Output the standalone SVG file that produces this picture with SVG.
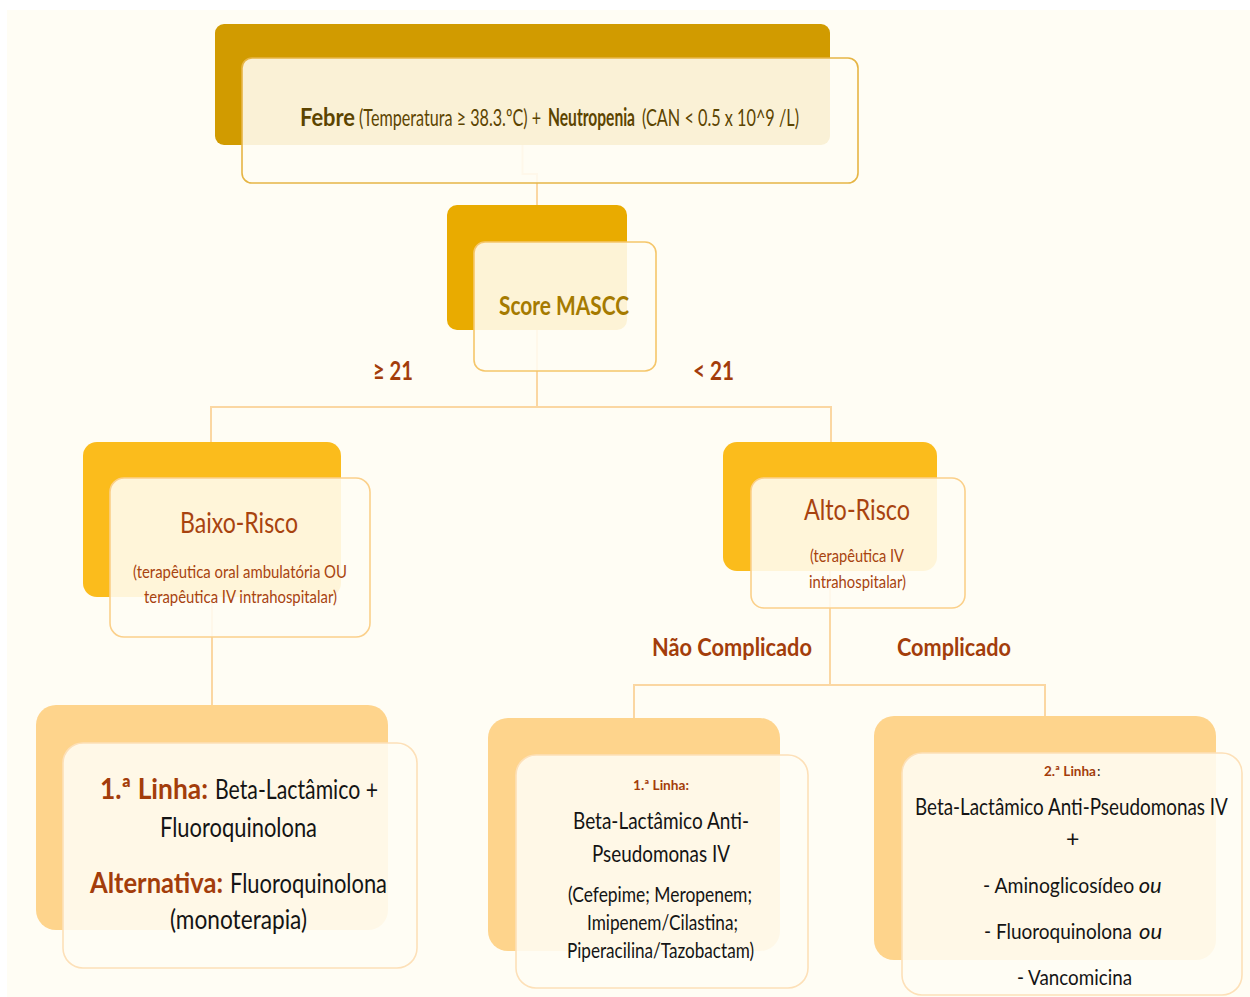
<svg xmlns="http://www.w3.org/2000/svg" width="1250" height="997" viewBox="0 0 1250 997">
<style>
.t{font-family:Lato,"Liberation Sans",sans-serif}
.b{font-weight:700}
.rust{fill:#a33d0b}
.blk{fill:#141414}
.front{fill:#fffdf4;fill-opacity:0.88;stroke-width:1.6}
.conn{fill:none;stroke:#fbd7a2;stroke-width:2}
</style>
<rect x="0" y="0" width="1250" height="997" fill="#ffffff"/>
<rect x="7" y="10" width="1243" height="987" fill="#fffdf4"/>

<g id="connectors">
<path class="conn" d="M522.5 145 V174 H537 V205"/>
<path class="conn" d="M537 330 V407 M211 442 V407 H831 V442"/>
<path class="conn" d="M212 597 V705"/>
<path class="conn" d="M830 571 V685 M634 718 V685 H1045 V716"/>
</g>

<g id="node-febre">
<rect x="215" y="24" width="615" height="121" rx="9" fill="#d19b00"/>
<rect class="front" x="242" y="58" width="616" height="125" rx="10" stroke="#e6b545"/>
<g transform="translate(0,126) scale(0.7,1)">
<text class="t b" x="428.6" y="0" font-size="24" fill="#5c4400" textLength="78.6" lengthAdjust="spacingAndGlyphs">Febre</text>
<text class="t" x="512.9" y="0" font-size="24" fill="#5c4400" textLength="260" lengthAdjust="spacingAndGlyphs">(Temperatura ≥ 38.3.ºC) +</text>
<text class="t b" x="782.9" y="0" font-size="24" fill="#5c4400" textLength="124.3" lengthAdjust="spacingAndGlyphs">Neutropenia</text>
<text class="t" x="917.1" y="0" font-size="24" fill="#5c4400" textLength="224.3" lengthAdjust="spacingAndGlyphs">(CAN &lt; 0.5 x 10^9 /L)</text>
</g>
</g>

<g id="node-score">
<rect x="447" y="205" width="180" height="125" rx="10" fill="#e9ab00"/>
<rect class="front" x="474" y="242" width="182" height="129" rx="11" stroke="#f5c66a"/>
<text class="t b" x="499" y="315" font-size="27" fill="#a57a00" textLength="130" lengthAdjust="spacingAndGlyphs">Score MASCC</text>
</g>

<g id="label-ge21">
<text class="t b rust" x="373" y="380" font-size="27" textLength="40" lengthAdjust="spacingAndGlyphs">≥ 21</text>
</g>
<g id="label-lt21">
<text class="t b rust" x="693" y="380" font-size="27" textLength="41" lengthAdjust="spacingAndGlyphs">&lt; 21</text>
</g>

<g id="node-baixo">
<rect x="83" y="442" width="258" height="155" rx="14" fill="#fbbc1c"/>
<rect class="front" x="110" y="478" width="260" height="159" rx="14" stroke="#fbd08a"/>
<text class="t" x="180" y="533" font-size="29" fill="#a8430f" textLength="118" lengthAdjust="spacingAndGlyphs">Baixo-Risco</text>
<text class="t" x="133" y="578" font-size="17.5" fill="#a8430f" textLength="214" lengthAdjust="spacingAndGlyphs">(terapêutica oral ambulatória OU</text>
<text class="t" x="144" y="603" font-size="17.5" fill="#a8430f" textLength="193" lengthAdjust="spacingAndGlyphs">terapêutica IV intrahospitalar)</text>
</g>

<g id="node-alto">
<rect x="723" y="442" width="214" height="129" rx="14" fill="#fbbc1c"/>
<rect class="front" x="751" y="478" width="214" height="130" rx="13" stroke="#fbd08a"/>
<text class="t" x="804" y="520" font-size="29" fill="#a8430f" textLength="106" lengthAdjust="spacingAndGlyphs">Alto-Risco</text>
<text class="t" x="810" y="562" font-size="16.5" fill="#a8430f" textLength="94" lengthAdjust="spacingAndGlyphs">(terapêutica IV</text>
<text class="t" x="809" y="588" font-size="16.5" fill="#a8430f" textLength="97" lengthAdjust="spacingAndGlyphs">intrahospitalar)</text>
</g>

<g id="label-nao-complicado">
<text class="t b rust" x="652" y="656" font-size="25" textLength="160" lengthAdjust="spacingAndGlyphs">Não Complicado</text>
</g>
<g id="label-complicado">
<text class="t b rust" x="897" y="656" font-size="25" textLength="114" lengthAdjust="spacingAndGlyphs">Complicado</text>
</g>

<g id="node-baixo-tratamento">
<rect x="36" y="705" width="352" height="225" rx="20" fill="#fed48c"/>
<rect class="front" x="63" y="743" width="354" height="225" rx="20" stroke="#fde0b8"/>
<text class="t b rust" x="100" y="799" font-size="29" textLength="108" lengthAdjust="spacingAndGlyphs">1.ª Linha:</text>
<text class="t blk" x="215" y="799" font-size="26" textLength="163" lengthAdjust="spacingAndGlyphs">Beta-Lactâmico +</text>
<text class="t blk" x="160" y="837" font-size="26" textLength="157" lengthAdjust="spacingAndGlyphs">Fluoroquinolona</text>
<text class="t b rust" x="90" y="893" font-size="29" textLength="133" lengthAdjust="spacingAndGlyphs">Alternativa:</text>
<text class="t blk" x="230" y="893" font-size="26" textLength="157" lengthAdjust="spacingAndGlyphs">Fluoroquinolona</text>
<text class="t blk" x="170" y="929" font-size="26" textLength="137" lengthAdjust="spacingAndGlyphs">(monoterapia)</text>
</g>

<g id="node-nao-complicado">
<rect x="488" y="718" width="292" height="233" rx="20" fill="#fed48c"/>
<rect class="front" x="516" y="755" width="292" height="233" rx="20" stroke="#fde0b8"/>
<text class="t b rust" x="633" y="790" font-size="14" textLength="56" lengthAdjust="spacingAndGlyphs">1.ª Linha:</text>
<text class="t blk" x="573" y="829" font-size="24" textLength="176" lengthAdjust="spacingAndGlyphs">Beta-Lactâmico Anti-</text>
<text class="t blk" x="592" y="862" font-size="24" textLength="138" lengthAdjust="spacingAndGlyphs">Pseudomonas IV</text>
<text class="t blk" x="568" y="902" font-size="21" textLength="184" lengthAdjust="spacingAndGlyphs">(Cefepime; Meropenem;</text>
<text class="t blk" x="587" y="930" font-size="21" textLength="151" lengthAdjust="spacingAndGlyphs">Imipenem/Cilastina;</text>
<text class="t blk" x="567" y="958" font-size="21" textLength="187" lengthAdjust="spacingAndGlyphs">Piperacilina/Tazobactam)</text>
</g>

<g id="node-complicado">
<rect x="874" y="716" width="342" height="244" rx="20" fill="#fed48c"/>
<rect class="front" x="902" y="753" width="340" height="242" rx="20" stroke="#fde0b8"/>
<text class="t b rust" x="1044" y="776" font-size="14" textLength="52" lengthAdjust="spacingAndGlyphs">2.ª Linha</text>
<text class="t blk" x="1097" y="776" font-size="14">:</text>
<g transform="translate(915,815) scale(0.85,1)">
<text class="t blk" x="0" y="0" font-size="23" textLength="368" lengthAdjust="spacingAndGlyphs">Beta-Lactâmico Anti-Pseudomonas IV</text>
</g>
<text class="t blk" x="1066" y="847" font-size="23">+</text>
<g transform="translate(983,893) scale(0.9,1)">
<text class="t blk" x="0" y="0" font-size="22" textLength="168" lengthAdjust="spacingAndGlyphs">- Aminoglicosídeo</text>
<text class="t blk" x="173" y="0" font-size="22" font-style="italic" textLength="25.6" lengthAdjust="spacingAndGlyphs">ou</text>
</g>
<g transform="translate(984,939) scale(0.9,1)">
<text class="t blk" x="0" y="0" font-size="22" textLength="164.4" lengthAdjust="spacingAndGlyphs">- Fluoroquinolona</text>
<text class="t blk" x="172.2" y="0" font-size="22" font-style="italic" textLength="25.6" lengthAdjust="spacingAndGlyphs">ou</text>
</g>
<text class="t blk" x="1017" y="985" font-size="22" textLength="115" lengthAdjust="spacingAndGlyphs">- Vancomicina</text>
</g>
</svg>
